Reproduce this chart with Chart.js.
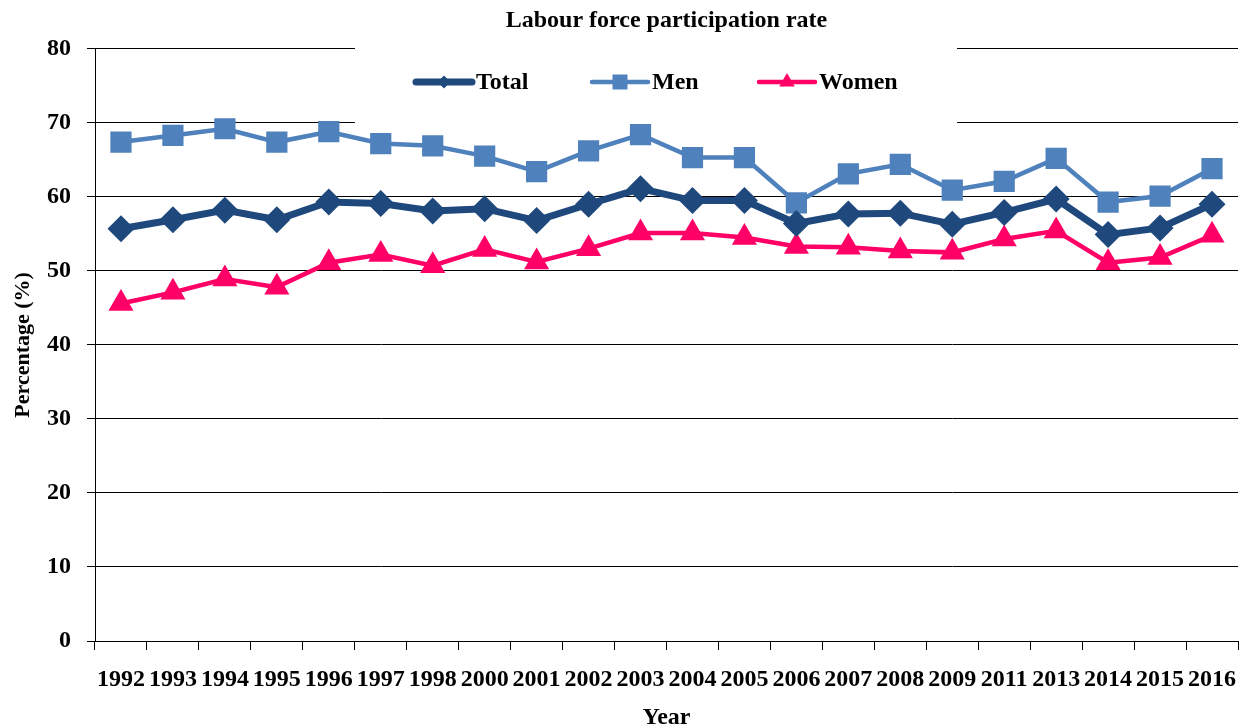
<!DOCTYPE html>
<html>
<head>
<meta charset="utf-8">
<script src="https://cdn.jsdelivr.net/npm/chart.js@4"></script>
<style>
  html, body { margin: 0; padding: 0; background: #fff; overflow: hidden; }
  #wrap { width: 1246px; height: 727px; position: relative; }
  canvas { display: block; }
</style>
</head>
<body>
<div id="wrap"><canvas id="c"></canvas></div>
<script>
const years = ['1992','1993','1994','1995','1996','1997','1998','2000','2001','2002','2003','2004','2005','2006','2007','2008','2009','2011','2013','2014','2015','2016'];
const totalValues = [55.7, 56.9, 58.2, 56.9, 59.3, 59.1, 58.1, 58.4, 56.8, 59.0, 61.1, 59.5, 59.5, 56.4, 57.7, 57.8, 56.3, 57.9, 59.7, 54.9, 55.8, 59.0];
const menValues = [67.4, 68.3, 69.2, 67.4, 68.8, 67.2, 66.9, 65.5, 63.4, 66.2, 68.4, 65.3, 65.3, 59.2, 63.1, 64.4, 60.9, 62.1, 65.2, 59.3, 60.1, 63.8];
const womenValues = [45.6, 47.1, 48.9, 47.8, 51.1, 52.2, 50.7, 52.9, 51.2, 53.0, 55.1, 55.1, 54.5, 53.3, 53.2, 52.7, 52.5, 54.3, 55.4, 51.1, 51.8, 54.8];
const seriesNames = ['Total', 'Men', 'Women'];
const yTicks = [0, 10, 20, 30, 40, 50, 60, 70, 80];

const FONT = '"Liberation Serif", "Times New Roman", serif';
Chart.defaults.font.family = FONT;
Chart.defaults.color = '#000';

const legendStyles = [
  { shape: 'diamond', size: 6.5, width: 7, start: 416 },
  { shape: 'square', size: 7.5, width: 4.5, start: 592 },
  { shape: 'triangle', size: 9, width: 4.5, start: 759 }
];

function drawShape(ctx, shape, x, y, r) {
  ctx.beginPath();
  if (shape === 'diamond') {
    ctx.moveTo(x - r, y); ctx.lineTo(x, y - r); ctx.lineTo(x + r, y); ctx.lineTo(x, y + r);
  } else if (shape === 'square') {
    ctx.rect(x - r, y - r, 2 * r, 2 * r);
  } else {
    ctx.moveTo(x, y - r); ctx.lineTo(x + r * 0.866, y + r / 2); ctx.lineTo(x - r * 0.866, y + r / 2);
  }
  ctx.closePath();
  ctx.fill();
}

const boxLegend = {
  id: 'boxLegend',
  beforeDatasetsDraw(chart) {
    const ctx = chart.ctx;
    ctx.save();
    ctx.fillStyle = '#fff';
    ctx.fillRect(355, 38, 602, 90);
    ctx.font = 'bold 24px ' + FONT;
    ctx.textBaseline = 'middle';
    ctx.textAlign = 'left';
    const y = 82;
    chart.data.datasets.forEach((ds, i) => {
      const st = legendStyles[i];
      const x = st.start;
      ctx.strokeStyle = ds.borderColor;
      ctx.fillStyle = ds.borderColor;
      ctx.lineWidth = st.width;
      ctx.lineCap = 'round';
      ctx.beginPath();
      ctx.moveTo(x, y);
      ctx.lineTo(x + 56, y);
      ctx.stroke();
      drawShape(ctx, st.shape, x + 28, y, st.size);
      ctx.fillStyle = '#000';
      ctx.fillText(ds.label, x + 60, y + 1);
    });
    ctx.restore();
  }
};

new Chart(document.getElementById('c'), {
  type: 'line',
  data: {
    labels: years,
    datasets: [
      {
        label: seriesNames[0], data: totalValues,
        borderColor: '#1F497D', backgroundColor: '#1F497D',
        borderWidth: 7, pointStyle: 'rectRot', pointRadius: 13.5, pointHoverRadius: 13.5,
        pointBorderWidth: 0, pointBackgroundColor: '#1F497D', tension: 0
      },
      {
        label: seriesNames[1], data: menValues,
        borderColor: '#4F81BD', backgroundColor: '#4F81BD',
        borderWidth: 4.5, pointStyle: 'rect', pointRadius: 15, pointHoverRadius: 15,
        pointBorderWidth: 0, pointBackgroundColor: '#4F81BD', tension: 0
      },
      {
        label: seriesNames[2], data: womenValues,
        borderColor: '#FF0066', backgroundColor: '#FF0066',
        borderWidth: 4.5, pointStyle: 'triangle', pointRadius: 14.5, pointHoverRadius: 14.5,
        pointBorderWidth: 0, pointBackgroundColor: '#FF0066', tension: 0
      }
    ]
  },
  options: {
    responsive: true,
    maintainAspectRatio: false,
    devicePixelRatio: 1,
    animation: false,
    layout: { autoPadding: false, padding: { left: 0, right: 8, top: 0, bottom: 0 } },
    plugins: {
      legend: { display: false },
      tooltip: { enabled: false },
      title: {
        display: true,
        text: 'Labour force participation rate',
        fullSize: false,
        color: '#000',
        font: { size: 24, weight: 'bold', family: FONT, lineHeight: 1.2 },
        padding: { top: 6, bottom: 14 }
      }
    },
    scales: {
      x: {
        type: 'category',
        offset: true,
        grid: {
          display: true, drawOnChartArea: false, drawTicks: true,
          tickLength: 9, offset: true, color: '#000', lineWidth: 1
        },
        border: { display: true, color: '#000', width: 1 },
        ticks: {
          autoSkip: false, maxRotation: 0, minRotation: 0, padding: 15,
          color: '#000', font: { size: 24, weight: 'bold', family: FONT }
        },
        title: {
          display: true, text: 'Year', color: '#000',
          font: { size: 24, weight: 'bold', family: FONT, lineHeight: 0.75 },
          padding: { top: 0, bottom: 0 }
        },
        afterFit(scale) {
          scale.height = 86;
          scale.paddingLeft = 0;
          scale.paddingRight = 0;
        }
      },
      y: {
        min: 0, max: 80,
        afterBuildTicks(scale) { scale.ticks = yTicks.map(v => ({ value: v })); },
        grid: { color: '#000', lineWidth: 1, tickLength: 8, drawTicks: true },
        border: { display: true, color: '#000', width: 1 },
        ticks: {
          padding: 16, color: '#000',
          font: { size: 24, weight: 'bold', family: FONT }
        },
        title: {
          display: true, text: 'Percentage (%)', color: '#000',
          font: { size: 22, weight: 'bold', family: FONT, lineHeight: 1.2 },
          padding: { top: 10, bottom: 0 }
        },
        afterFit(scale) {
          scale.width = 95;
          scale.paddingTop = 0;
          scale.paddingBottom = 0;
        }
      }
    }
  },
  plugins: [boxLegend]
});
</script>
</body>
</html>
